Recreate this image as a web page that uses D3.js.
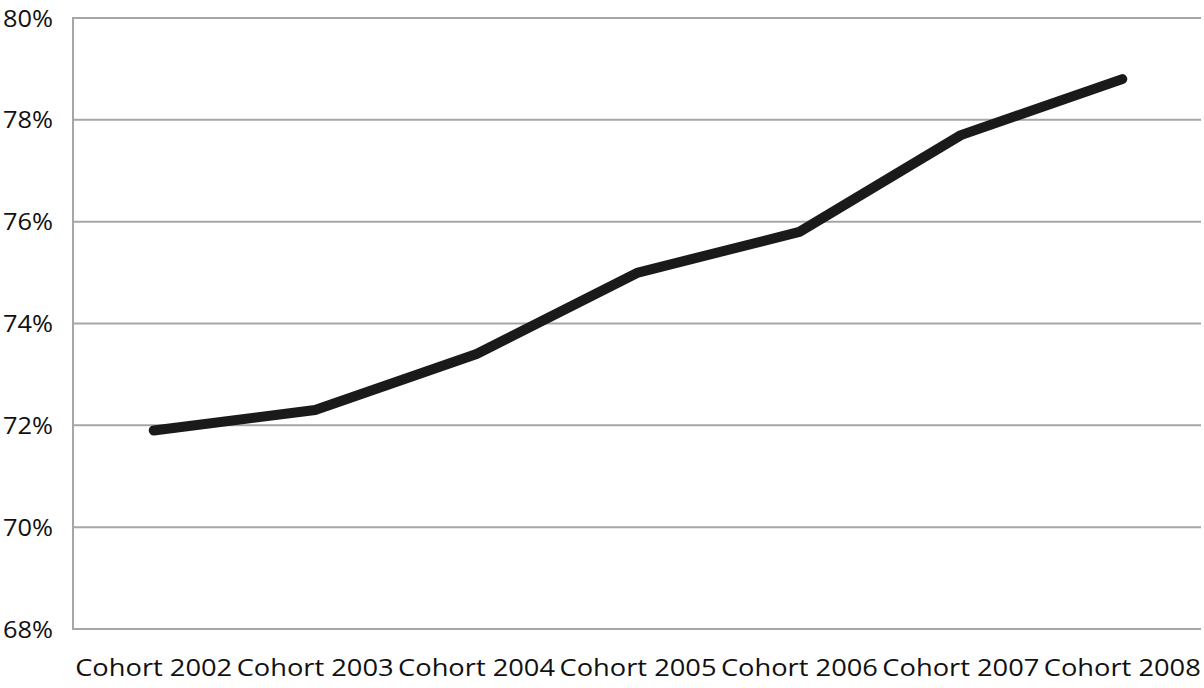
<!DOCTYPE html>
<html>
<head>
<meta charset="utf-8">
<script src="https://cdn.jsdelivr.net/npm/d3@7"></script>
<style>
  body { margin: 0; background: #fff; }
  text { font-family: "Open Sans", "Noto Sans", sans-serif; fill: #111; }
</style>
</head>
<body>
<svg id="chart" width="1204" height="688"></svg>
<script>
// cohort rates
var cohorts = ["Cohort 2002", "Cohort 2003", "Cohort 2004", "Cohort 2005", "Cohort 2006", "Cohort 2007", "Cohort 2008"];
var rates = [0.719, 0.723, 0.734, 0.750, 0.758, 0.777, 0.788];
var yTicks = [0.68, 0.70, 0.72, 0.74, 0.76, 0.78, 0.80];

var svg = d3.select("#chart");
var plotLeft = 73, plotRight = 1201, plotTop = 18, plotBottom = 629;

var x = d3.scaleBand().domain(cohorts).range([plotLeft, 1203]);
var y = d3.scaleLinear().domain([0.68, 0.80]).range([plotBottom, plotTop]);

// gridlines
svg.append("g")
    .selectAll("line")
    .data(yTicks)
    .enter()
    .append("line")
    .attr("x1", plotLeft)
    .attr("x2", plotRight)
    .attr("y1", d => y(d))
    .attr("y2", d => y(d))
    .attr("stroke", "#a6a6a6")
    .attr("stroke-width", 2);

// y axis line
svg.append("line")
    .attr("x1", plotLeft).attr("x2", plotLeft)
    .attr("y1", plotTop - 1).attr("y2", plotBottom + 1)
    .attr("stroke", "#a6a6a6")
    .attr("stroke-width", 2);

// y labels
svg.append("g")
    .selectAll("text")
    .data(yTicks)
    .enter()
    .append("text")
    .attr("x", 53)
    .attr("y", d => y(d))
    .attr("dy", "0.36em")
    .attr("text-anchor", "end")
    .attr("font-size", 24)
    .attr("textLength", 50)
    .attr("lengthAdjust", "spacingAndGlyphs")
    .text(d => d3.format(".0%")(d));

// x labels
svg.append("g")
    .selectAll("text")
    .data(cohorts)
    .enter()
    .append("text")
    .attr("x", d => x(d) + x.bandwidth() / 2)
    .attr("y", 668)
    .attr("dy", "0.36em")
    .attr("text-anchor", "middle")
    .attr("font-size", 23)
    .attr("textLength", 157)
    .attr("lengthAdjust", "spacingAndGlyphs")
    .text(d => d);

// the line
var line = d3.line()
    .x((d, i) => x(cohorts[i]) + x.bandwidth() / 2)
    .y(d => y(d));

svg.append("path")
    .datum(rates)
    .attr("d", line)
    .attr("fill", "none")
    .attr("stroke", "#1a1a1a")
    .attr("stroke-width", 10)
    .attr("stroke-linecap", "round")
    .attr("stroke-linejoin", "round");
</script>
</body>
</html>
